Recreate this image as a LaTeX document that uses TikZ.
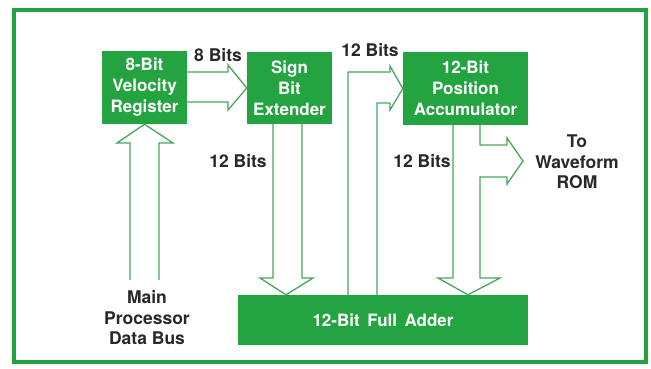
\documentclass[tikz,border=0pt]{standalone}
\usepackage{fontspec}
\setmainfont{TeX Gyre Heros}
\usetikzlibrary{positioning,calc}
\definecolor{boxgreen}{RGB}{36,164,64}
\definecolor{linegreen}{RGB}{72,166,92}
\definecolor{labelgray}{RGB}{40,40,40}

\begin{document}
\begin{tikzpicture}[x=1pt, y=-1pt,
    block/.style={rectangle, fill=boxgreen, text=white, inner sep=0pt, align=center,
        font=\fontsize{17}{21}\selectfont\bfseries},
    bus/.style={draw=linegreen, line width=1.3pt, line join=miter},
    lbl/.style={text=labelgray, inner sep=0pt, align=center,
        font=\fontsize{17.5}{20.5}\selectfont\bfseries}]
    \useasboundingbox (0,0) rectangle (651,368);

    % Outer frame
    \draw[boxgreen, line width=3.5pt] (14,10) rectangle (646,362);

    % Blocks
    \node[block, minimum width=85pt, minimum height=73pt] (vreg) at (144.5,87.5) {8-Bit\\Velocity\\Register};
    \node[block, minimum width=85pt, minimum height=72pt] (sbe) at (289.5,88) {Sign\\Bit\\Extender};
    \node[block, minimum width=125pt, minimum height=73pt] (acc) at (465.5,88.5) {12-Bit\\Position\\Accumulator};
    \node[block, minimum width=290pt, minimum height=50pt] (adder) at (383,320) {12-Bit\, Full\, Adder};

    % Labels
    \node[lbl] (bits8) at (218,55) {8 Bits};
    \node[lbl] (bits12a) at (238,161) {12 Bits};
    \node[lbl] (bits12b) at (370,50) {12 Bits};
    \node[lbl] (bits12c) at (422,161) {12 Bits};
    \node[lbl] (rom) at (577,162) {To\\Waveform\\ROM};
    \node[lbl] (mpdb) at (147,318) {Main\\Processor\\Data Bus};

    % Hollow bus arrows
    \draw[bus] (vreg.east |- 0,72) -- (228,72) -- (228,65) -- (sbe.west) -- (228,110) -- (228,102) -- (vreg.east |- 0,102);
    \draw[bus] (130,280) -- (130,143) -- (117,143) -- (vreg.south) -- (173,143) -- (159,143) -- (159,280);
    \draw[bus] (273,0 |- sbe.south) -- (273,278) -- (260,278) -- (286,0 |- adder.north) -- (313,278) -- (302,278) -- (302,0 |- sbe.south);
    \draw[bus] (348,0 |- adder.north) -- (348,72) -- (390,72) -- (390,66) -- (acc.west) -- (390,110) -- (390,103) -- (377,103) -- (377,0 |- adder.north);
    \draw[bus] (453,0 |- acc.south) -- (453,278) -- (438,278) -- (468,0 |- adder.north) -- (500,278) -- (480,278)
        -- (480,177) -- (507,177) -- (507,184) -- (523,161) -- (507,138) -- (507,145) -- (480,145) -- (480,0 |- acc.south);
\end{tikzpicture}
\end{document}
